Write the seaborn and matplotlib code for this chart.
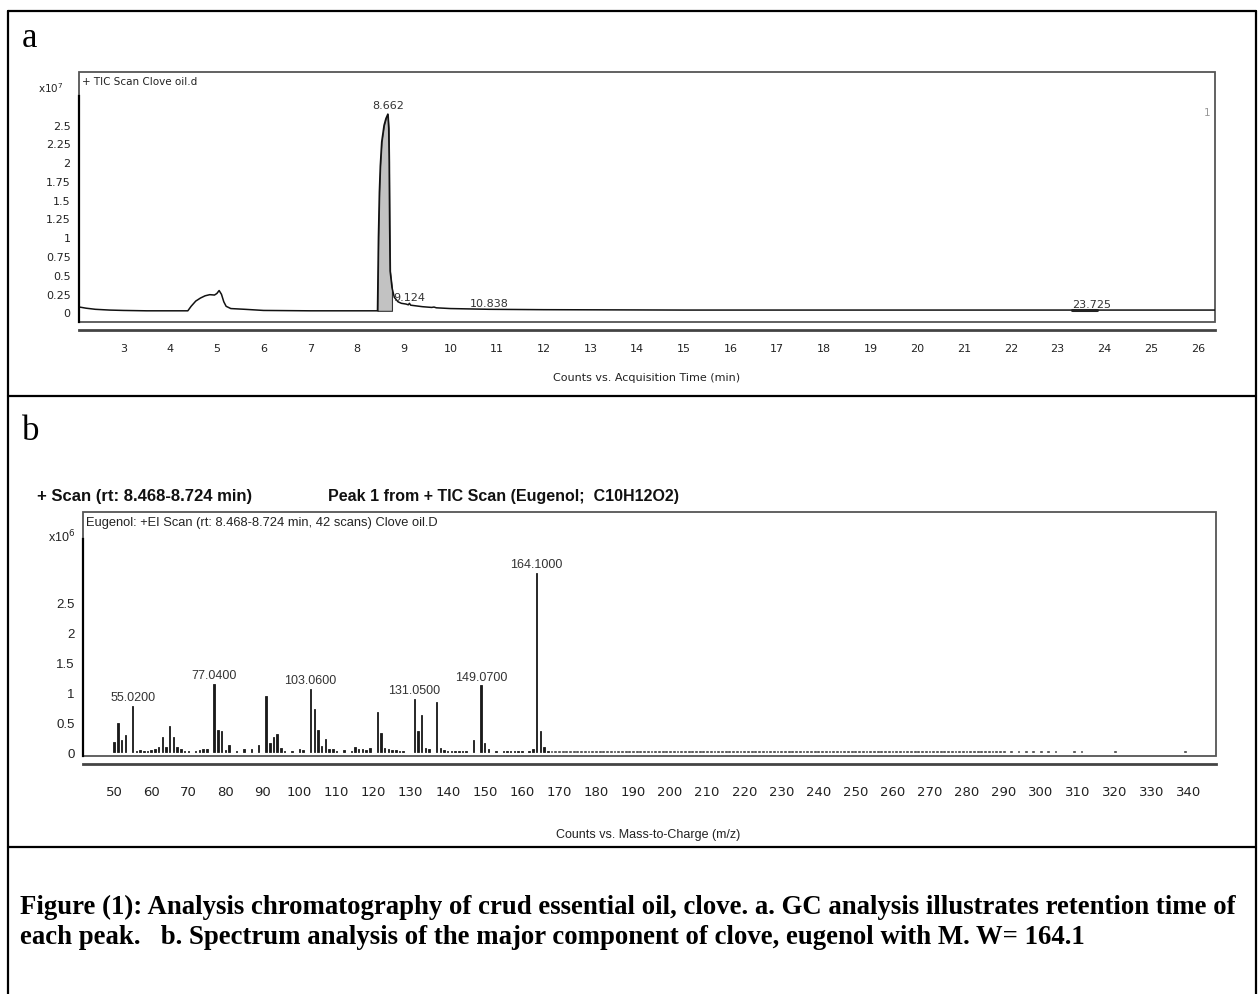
import matplotlib
matplotlib.use("Agg")
import matplotlib.pyplot as plt
from matplotlib.patches import Rectangle
from matplotlib.lines import Line2D
import seaborn as sns

# panel a: TIC chromatogram, retention time (min) vs counts (x10^7)
rt_min = [2.06, 2.2, 2.4, 2.7, 3.0, 3.5, 4.0, 4.38, 4.45, 4.55, 4.65, 4.75, 4.85,
          4.95, 5.0, 5.05, 5.1, 5.15, 5.2, 5.3, 5.45, 5.6, 6.0, 7.0, 8.0, 8.44,
          8.45, 8.46, 8.48, 8.5, 8.53, 8.58, 8.62, 8.662, 8.68, 8.69, 8.7, 8.71,
          8.75, 8.8, 8.88, 8.95, 9.05, 9.1, 9.124, 9.15, 9.4, 9.6, 9.65, 9.7,
          10.0, 10.838, 12.0, 15.0, 20.0, 23.725, 26.37]
tic_counts = [0.07, 0.055, 0.04, 0.03, 0.025, 0.02, 0.02, 0.02, 0.08, 0.15, 0.19,
              0.22, 0.235, 0.23, 0.25, 0.29, 0.24, 0.14, 0.08, 0.05, 0.045, 0.04,
              0.025, 0.02, 0.02, 0.02, 0.5, 1.0, 1.6, 1.95, 2.27, 2.49, 2.58, 2.64,
              2.45, 2.0, 1.15, 0.55, 0.33, 0.2, 0.14, 0.12, 0.11, 0.1, 0.12, 0.095,
              0.075, 0.065, 0.07, 0.06, 0.05, 0.04, 0.035, 0.03, 0.03, 0.03, 0.03]
peak_rt = ["8.662", "9.124", "10.838", "23.725"]
peak_window = (8.44, 8.78)

# panel b: EI mass spectrum of eugenol, m/z vs counts (x10^6)
mz = [50, 51, 52, 53, 55, 56, 57, 58, 59, 60, 61, 62, 63, 64, 65, 66, 67, 68, 69,
      70, 72, 73, 74, 75, 77, 78, 79, 80, 81, 83, 85, 87, 89, 91, 92, 93, 94, 95,
      96, 98, 100, 101, 103, 104, 105, 106, 107, 108, 109, 110, 112, 114, 115,
      116, 117, 118, 119, 121, 122, 123, 124, 125, 126, 127, 128, 131, 132, 133,
      134, 135, 137, 138, 139, 140, 141, 142, 143, 144, 145, 147, 149, 150, 151,
      153, 155, 156, 157, 158, 159, 160, 162, 163, 164, 165, 166, 167]
ms_counts = [0.17, 0.49, 0.2, 0.29, 0.78, 0.03, 0.04, 0.03, 0.03, 0.04, 0.05, 0.09,
             0.26, 0.09, 0.45, 0.25, 0.09, 0.05, 0.03, 0.02, 0.03, 0.04, 0.06, 0.06,
             1.14, 0.37, 0.35, 0.04, 0.13, 0.03, 0.05, 0.05, 0.12, 0.95, 0.15, 0.25,
             0.3, 0.08, 0.03, 0.03, 0.05, 0.04, 1.06, 0.72, 0.38, 0.1, 0.22, 0.06,
             0.06, 0.03, 0.04, 0.03, 0.09, 0.05, 0.05, 0.04, 0.07, 0.68, 0.32, 0.07,
             0.05, 0.04, 0.04, 0.03, 0.03, 0.9, 0.35, 0.62, 0.08, 0.06, 0.85, 0.08,
             0.04, 0.03, 0.03, 0.03, 0.03, 0.03, 0.03, 0.2, 1.12, 0.15, 0.05, 0.02,
             0.03, 0.03, 0.03, 0.03, 0.03, 0.03, 0.03, 0.06, 3.0, 0.35, 0.09, 0.02]
noise_mz = list(range(168, 291)) + [292, 294, 296, 298, 300, 302, 304, 309, 311, 320, 339]
noise_level = 0.02
ms_labels = {55: "55.0200", 77: "77.0400", 103: "103.0600",
             131: "131.0500", 149: "149.0700", 164: "164.1000"}

W, H = 1258, 995
sns.set_style("white")
plt.rcParams["font.family"] = ["DejaVu Sans"]
narrow = ["Liberation Sans", "DejaVu Sans"]
ink = "#222222"


def fx(px):
    return px / W


def fy(py):
    return 1 - py / H


fig = plt.figure(figsize=(W / 100, H / 100), dpi=100)

# table frame around the figure
for x0, y0, x1, y1 in [(8, 12, 1256, 12), (8, 12, 8, 995), (1256, 12, 1256, 995),
                       (8, 397, 1256, 397), (8, 848, 1256, 848)]:
    fig.add_artist(Line2D([fx(x0), fx(x1)], [fy(y0), fy(y1)], color="black", lw=1.6))
fig.text(fx(22), fy(47), "a", family="Liberation Serif", fontsize=25, color="black")
fig.text(fx(22), fy(440), "b", family="Liberation Serif", fontsize=25, color="black")


def frame(ax, ytop):
    for s in ["top", "right"]:
        ax.spines[s].set_visible(False)
    ax.spines["left"].set_color("black")
    ax.spines["left"].set_linewidth(1.6)
    ax.spines["left"].set_bounds(ax.get_ylim()[0], ytop)
    ax.spines["bottom"].set_position(("outward", 6))
    ax.spines["bottom"].set_color("#444444")
    ax.spines["bottom"].set_linewidth(2)
    ax.add_patch(Rectangle((0, 0), 1, 1, transform=ax.transAxes, fill=False,
                           ec="#555555", lw=1.3, clip_on=False))


# ---- panel a ----
ax_a = fig.add_axes([fx(79), fy(322.7), fx(1136), 249.7 / H])
sns.lineplot(x=rt_min, y=tic_counts, ax=ax_a, color="#111111", lw=1.1)
win = [(t, c) for t, c in zip(rt_min, tic_counts) if peak_window[0] <= t <= peak_window[1]]
ax_a.fill_between([t for t, _ in win], 0.02, [c for _, c in win],
                  color="#c2c2c2", ec="#333333", lw=0.8)
ax_a.plot([23.3, 23.85], [0.03, 0.03], color="#222222", lw=2.2)
ax_a.set_xlim(2.05, 26.37)
ax_a.set_ylim(-0.125, 3.2)
ax_a.set_xticks(range(3, 27))
ax_a.set_xticklabels([str(v) for v in range(3, 27)])
yt = [0, 0.25, 0.5, 0.75, 1, 1.25, 1.5, 1.75, 2, 2.25, 2.5, 2.8]
ax_a.set_yticks(yt)
ax_a.set_yticklabels(["0", "0.25", "0.5", "0.75", "1", "1.25", "1.5", "1.75", "2",
                      "2.25", "2.5", ""])
frame(ax_a, 2.88)
ax_a.tick_params(axis="both", direction="out", colors=ink, labelsize=8, width=1.3)
ax_a.tick_params(axis="y", length=5, pad=1)
ax_a.tick_params(axis="x", length=6, pad=3)
ax_a.set_xlabel("")
ax_a.set_ylabel("")
for lab in peak_rt:
    t = float(lab)
    idx = min(range(len(rt_min)), key=lambda i: abs(rt_min[i] - t))
    dy = 3 if lab == "8.662" else 1
    ax_a.annotate(lab, (t, tic_counts[idx]), xytext=(0, dy), textcoords="offset points",
                  ha="center", va="bottom", fontsize=8, color="#333333")
ax_a.text(0.003, 0.985, "+ TIC Scan Clove oil.d", transform=ax_a.transAxes,
          ha="left", va="top", fontsize=7.5, color=ink)
ax_a.text(0.996, 0.86, "1", transform=ax_a.transAxes, ha="right", va="top",
          fontsize=7.5, color="#999999")
fig.text(fx(63), fy(88), "x10$^7$", ha="right", va="center", fontsize=7.5, color=ink)
fig.text(fx(647), fy(378), "Counts vs. Acquisition Time (min)", ha="center",
         va="center", fontsize=8, color=ink)

# ---- panel b ----
ax_b = fig.add_axes([fx(83), fy(757), fx(1133), 244 / H])
sns.barplot(x=noise_mz, y=[noise_level] * len(noise_mz), native_scale=True,
            color="#333333", width=0.5, ec="#333333", lw=0.4, errorbar=None, ax=ax_b)
sns.barplot(x=mz, y=ms_counts, native_scale=True, color="#1a1a1a", width=0.4,
            ec="#1a1a1a", lw=0.6, errorbar=None, ax=ax_b)
ax_b.set_xlim(41.6, 347.3)
ax_b.set_ylim(-0.06, 4.02)
ax_b.set_xticks(range(50, 341, 10))
ax_b.set_xticklabels([str(v) for v in range(50, 341, 10)], family=narrow)
ax_b.set_yticks([0, 0.5, 1, 1.5, 2, 2.5, 3.1])
ax_b.set_yticklabels(["0", "0.5", "1", "1.5", "2", "2.5", ""], family=narrow)
frame(ax_b, 3.57)
ax_b.tick_params(axis="both", direction="out", colors=ink, labelsize=9.5, width=1.3)
ax_b.tick_params(axis="y", length=5, pad=1)
ax_b.tick_params(axis="x", length=12, pad=3)
ax_b.set_xlabel("")
ax_b.set_ylabel("")
for m, lab in ms_labels.items():
    ax_b.annotate(lab, (m, ms_counts[mz.index(m)]), xytext=(0, 2),
                  textcoords="offset points", ha="center", va="bottom",
                  fontsize=9, family=narrow, color="#333333")
ax_b.text(0.003, 0.985, "Eugenol: +EI Scan (rt: 8.468-8.724 min, 42 scans) Clove oil.D",
          transform=ax_b.transAxes, ha="left", va="top", fontsize=9.3, family=narrow,
          color=ink)
fig.text(fx(75), fy(537), "x10$^6$", ha="right", va="center", fontsize=9,
         family=narrow, color=ink)
fig.text(fx(37), fy(497), "+ Scan (rt: 8.468-8.724 min)", ha="left", va="center",
         fontsize=12, family=narrow, weight="bold", color="#111111")
fig.text(fx(328), fy(497), "Peak 1 from + TIC Scan (Eugenol;  C10H12O2)", ha="left",
         va="center", fontsize=11.5, family=narrow, weight="bold", color="#111111")
fig.text(fx(648), fy(835), "Counts vs. Mass-to-Charge (m/z)", ha="center",
         va="center", fontsize=9, family=narrow, color=ink)

# caption
fig.text(fx(20), fy(907), "Figure (1): Analysis chromatography of crud essential oil, clove. "
         "a. GC analysis illustrates retention time of", ha="left", va="center",
         family="Liberation Serif", weight="bold", fontsize=19.3, color="black")
fig.text(fx(20), fy(938), "each peak.   b. Spectrum analysis of the major component of "
         "clove, eugenol with M. W= 164.1", ha="left", va="center",
         family="Liberation Serif", weight="bold", fontsize=19.3, color="black")

fig.savefig("out.png", dpi=100)
